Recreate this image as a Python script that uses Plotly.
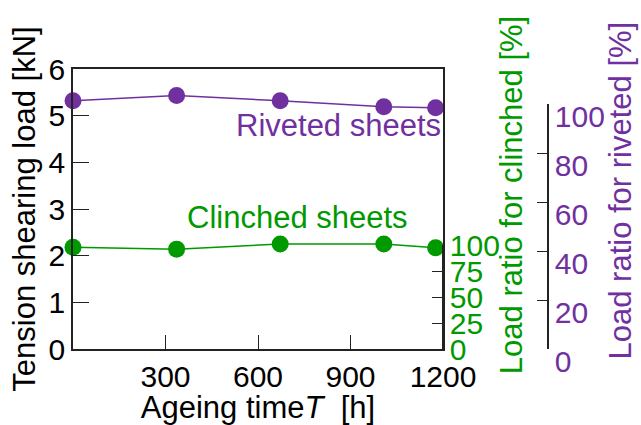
import plotly.graph_objects as go

# Ageing time [h] and tension shearing load [kN]
time_h = [0, 336, 672, 1008, 1176]
riveted_kN = [5.32, 5.43, 5.32, 5.19, 5.17]
clinched_kN = [2.18, 2.14, 2.25, 2.25, 2.17]

x_ticks = [300, 600, 900, 1200]
y_ticks = [0, 1, 2, 3, 4, 5, 6]
clinched_ratio_ticks = [0, 25, 50, 75, 100]
riveted_ratio_ticks = [0, 20, 40, 60, 80, 100]

PURPLE = "#7030A0"
GREEN = "#009900"
FONT = "Liberation Sans, Arial, sans-serif"
W, H = 641, 425
ML, MR, MT, MB = 73, 10, 69, 76
PW = W - ML - MR
PH = H - MT - MB
XDOM = 370 / PW

fig = go.Figure()

fig.add_trace(go.Scatter(
    x=time_h, y=riveted_kN, mode="lines+markers",
    line=dict(color=PURPLE, width=1.5),
    marker=dict(color=PURPLE, size=17),
    cliponaxis=False, showlegend=False,
))
fig.add_trace(go.Scatter(
    x=time_h, y=clinched_kN, mode="lines+markers",
    line=dict(color=GREEN, width=1.5),
    marker=dict(color=GREEN, size=17),
    cliponaxis=False, showlegend=False,
))
# placeholders so the two ratio axes are drawn
fig.add_trace(go.Scatter(x=[None], y=[None], yaxis="y2", showlegend=False, hoverinfo="skip"))
fig.add_trace(go.Scatter(x=[None], y=[None], yaxis="y3", showlegend=False, hoverinfo="skip"))

axis_line = dict(showline=True, linecolor="#222", linewidth=1.6, showgrid=False,
                 zeroline=False, automargin=False)

fig.update_layout(
    width=W, height=H,
    margin=dict(l=ML, r=MR, t=MT, b=MB, pad=0, autoexpand=False),
    paper_bgcolor="white", plot_bgcolor="rgba(0,0,0,0)",
    font=dict(family=FONT, size=30, color="black"),
    xaxis=dict(
        **axis_line, domain=[0, XDOM], range=[0, 1200], mirror=True,
        tickvals=x_ticks, ticks="inside", ticklen=14, tickwidth=1.3, tickcolor="#222",
        ticklabelstandoff=0,
        title=dict(text="Ageing time<i>T</i>\u00a0 [h]", font=dict(size=31), standoff=2),
    ),
    yaxis=dict(
        **axis_line, domain=[0, 1], range=[0, 6], mirror=True,
        tickvals=y_ticks, ticks="inside", ticklen=16, tickwidth=1.3, tickcolor="#222",
        title=dict(text="Tension shearing load [kN]", font=dict(size=31), standoff=4),
    ),
    yaxis2=dict(
        **axis_line, domain=[0, 104 / PH], range=[0, 100],
        anchor="free", position=XDOM, side="right",
        tickvals=clinched_ratio_ticks, ticks="inside", ticklen=10, tickwidth=1.3,
        tickcolor="#222", tickfont=dict(color=GREEN, size=30),
    ),
    yaxis3=dict(
        **axis_line, domain=[0, 245 / PH], range=[0, 100],
        anchor="free", position=(548 - ML) / PW, side="right",
        tickvals=riveted_ratio_ticks, ticks="inside", ticklen=10, tickwidth=1.3,
        tickcolor="#222", tickfont=dict(color=PURPLE, size=30), ticklabelshift=12,
    ),
)

# series labels
fig.add_annotation(x=1200, y=4.8, xref="x", yref="y", text="Riveted sheets",
                   showarrow=False, xanchor="right", yanchor="middle",
                   font=dict(color=PURPLE, size=31))
fig.add_annotation(x=729, y=2.81, xref="x", yref="y", text="Clinched sheets",
                   showarrow=False, xanchor="center", yanchor="middle",
                   font=dict(color=GREEN, size=31))

# titles of the two ratio axes
fig.add_annotation(x=(511.7 - ML) / PW, y=(349 - 195.5) / PH, xref="paper", yref="paper",
                   text="Load ratio for clinched [%]", textangle=-90, showarrow=False,
                   xanchor="center", yanchor="middle", font=dict(color=GREEN, size=31))
fig.add_annotation(x=(620 - ML) / PW, y=(349 - 190.5) / PH, xref="paper", yref="paper",
                   text="Load ratio for riveted [%]", textangle=-90, showarrow=False,
                   xanchor="center", yanchor="middle", font=dict(color=PURPLE, size=31))

fig.write_html("out.html")
